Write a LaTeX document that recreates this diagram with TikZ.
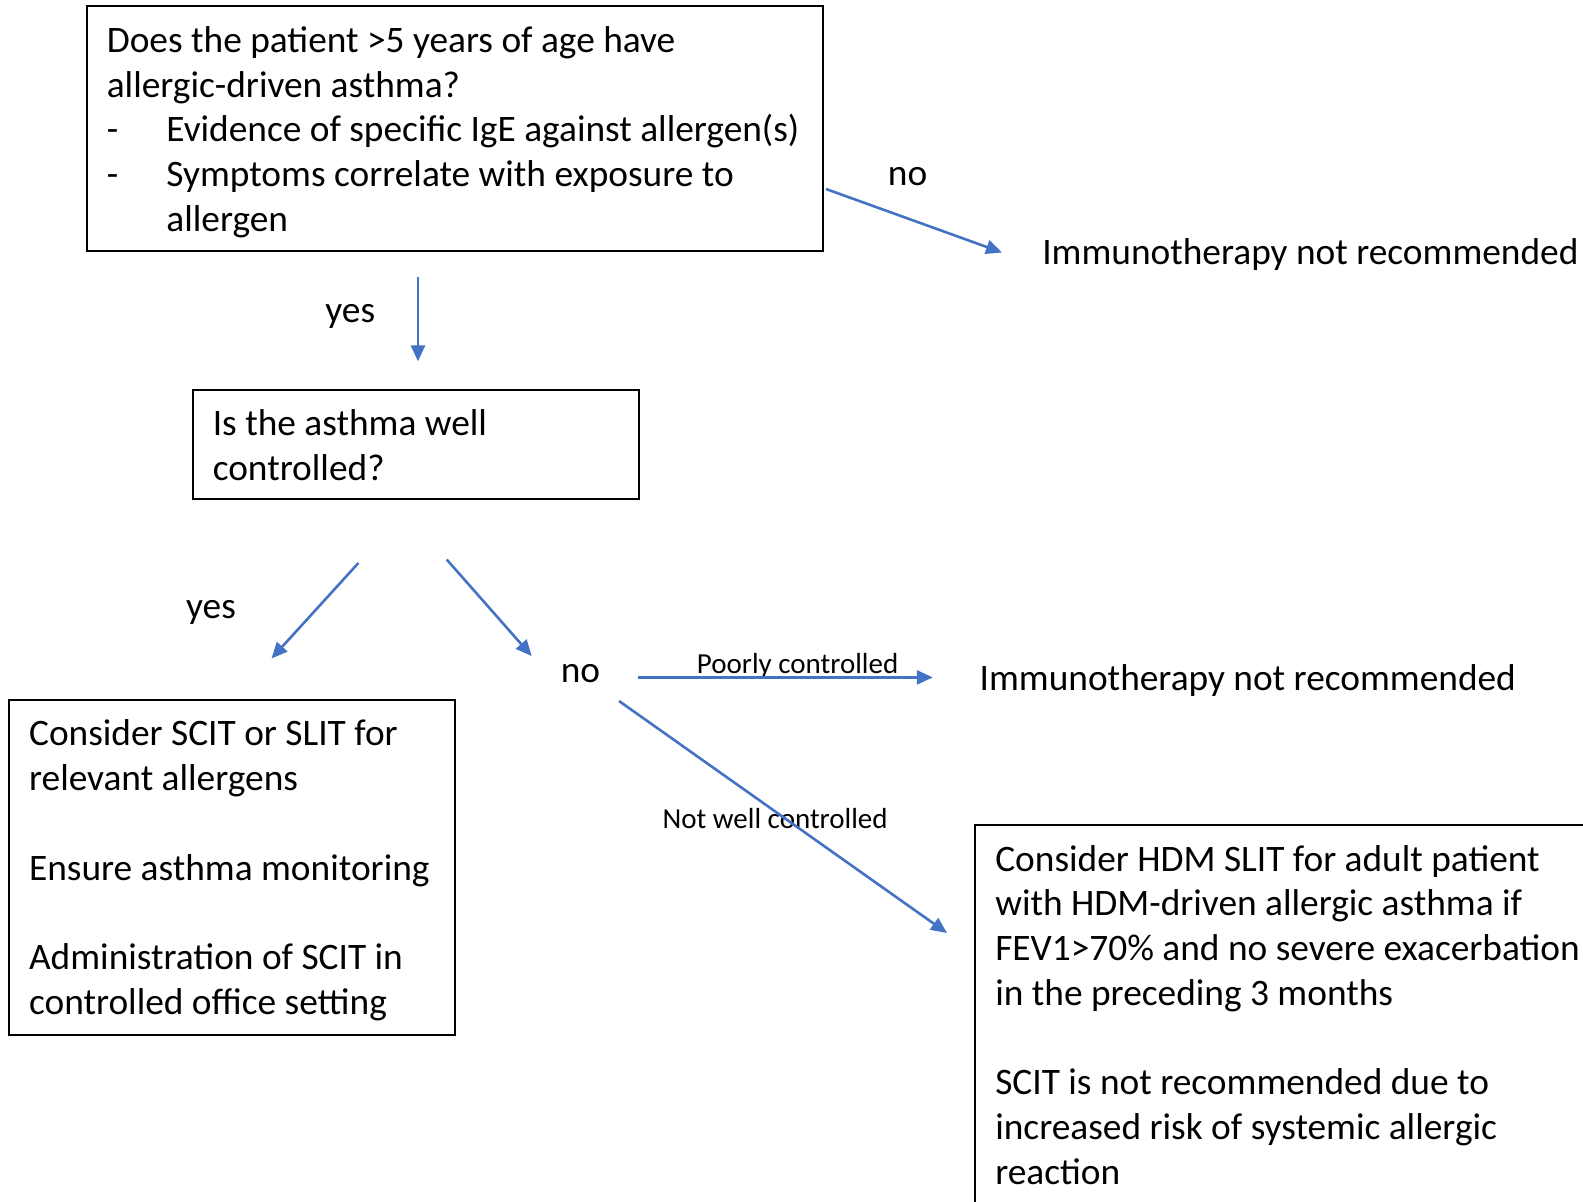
\documentclass[tikz,border=0pt]{standalone}
\usepackage{fontspec}
\setmainfont{Carlito}
\usetikzlibrary{arrows.meta}
\definecolor{flowblue}{RGB}{68,114,196}

\begin{document}
\begin{tikzpicture}[x=0.5pt,y=0.5pt,yscale=-1,xscale=1,
    every node/.style={inner sep=0pt,font=\fontsize{18.68pt}{22.35pt}\selectfont},
    decision/.style={draw,line width=1pt,anchor=north west,align=justify,inner xsep=10pt,inner ysep=0pt,outer sep=0pt,text height=23.15pt,
        execute at begin node={\spaceskip=0pt\xspaceskip=0pt\relax}},
    smalltext/.style={font=\fontsize{14.5pt}{17pt}\selectfont},
    flowarrow/.style={draw=flowblue,line width=1.3pt,-{Triangle[length=8pt,width=7pt]}}]
    \useasboundingbox (0,0) rectangle (1583,1202);
    \clip (0,0) rectangle (1583,1202);

    %Shape: Rectangle [first question]
    \node[decision,text width=348pt,text depth=99.5pt] (patient) at (86.8,6.1) {Does the patient >5 years of age have\\
        allergic-driven asthma?\\
        \mbox{\makebox[29.8pt][l]{-}Evidence of specific IgE against allergen(s)}\\
        \makebox[29.8pt][l]{-}Symptoms correlate with exposure to\\
        \hspace*{29.8pt}allergen};
    %Shape: Rectangle [second question]
    \node[decision,text width=203.2pt,text depth=31.35pt] (control) at (192.8,389.7) {Is the asthma well\\ controlled?};
    %Shape: Rectangle [well controlled]
    \node[decision,text width=203.1pt,text depth=144.4pt] (consider) at (9.1,699.6) {Consider SCIT or SLIT for\\
        relevant allergens\\[22.35pt]
        \mbox{Ensure asthma monitoring}\\[22.35pt]
        Administration of SCIT in\\
        controlled office setting};
    %Shape: Rectangle [not well controlled]
    \node[decision,text width=310pt,text depth=200pt] (hdm) at (975.3,824.8) {Consider HDM SLIT for adult patient\\
        with HDM-driven allergic asthma if\\
        \mbox{FEV1>70\% and no severe exacerbation}\\
        in the preceding 3 months\\[22.35pt]
        SCIT is not recommended due to\\
        increased risk of systemic allergic\\
        reaction};

    % Text Node
    \node (notop) at (907.6,176.6) {no};
    % Text Node
    \node[anchor=west] (notrec) at (1041.9,254.4) {Immunotherapy not recommended};
    % Text Node
    \node (yestop) at (350.3,316) {yes};
    % Text Node
    \node (yesleft) at (211,612.8) {yes};
    % Text Node
    \node (nomid) at (580.5,673.4) {no};
    % Text Node
    \node[smalltext] (poorly) at (797.6,665.3) {Poorly controlled};
    % Text Node
    \node[anchor=west] (notrecmid) at (979.3,680.4) {Immunotherapy not recommended};
    % Text Node
    \node[smalltext,anchor=west] (notwell) at (662.3,818.8) {Not well controlled};

    %Straight Lines
    \coordinate (noA) at (826,189);
    \coordinate (noB) at (1002,252.5);
    \coordinate (yesA) at (418,276.6);
    \coordinate (yesB) at (418,361.4);
    \coordinate (leftA) at (358.4,563);
    \coordinate (leftB) at (271.5,658.5);
    \coordinate (rightA) at (446.7,559.5);
    \coordinate (rightB) at (531.7,656);
    \coordinate (poorA) at (638.3,677.4);
    \coordinate (poorB) at (932.8,677.4);
    \coordinate (wellA) at (619,701);
    \coordinate (wellB) at (947,933);
    \draw[flowarrow] (noA) -- (noB);
    \draw[flowarrow] (yesA) -- (yesB);
    \draw[flowarrow] (leftA) -- (leftB);
    \draw[flowarrow] (rightA) -- (rightB);
    \draw[flowarrow] (poorA) -- (poorB);
    \draw[flowarrow] (wellA) -- (wellB);
\end{tikzpicture}
\end{document}
